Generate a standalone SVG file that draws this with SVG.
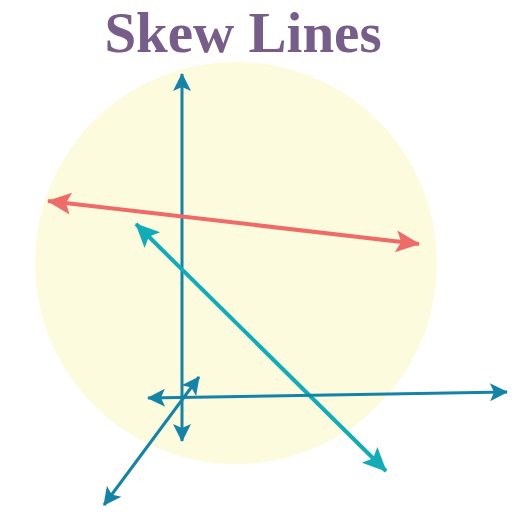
<svg xmlns="http://www.w3.org/2000/svg" width="530" height="528" viewBox="0 0 530 528">
<style>
.blue{stroke:#1583a8;stroke-width:3;fill:none}
.red{stroke:#ef6b67;stroke-width:4;fill:none}
.cyan{stroke:#10acb8;stroke-width:4;fill:none}
.title{font-family:"Liberation Serif",serif;font-weight:bold;font-size:57px;fill:#775d8a}
</style>
<defs>
<marker id="ab" markerUnits="userSpaceOnUse" viewBox="-24 -14 28 28" refX="0" refY="0" markerWidth="28" markerHeight="28" orient="auto-start-reverse">
<path d="M1,0 L-17,-9 L-13,0 L-17,9 Z" fill="#1583a8"/>
</marker>
<marker id="ar" markerUnits="userSpaceOnUse" viewBox="-32 -18 36 36" refX="0" refY="0" markerWidth="36" markerHeight="36" orient="auto-start-reverse">
<path d="M1,0 L-23,-11 L-18,0 L-23,11 Z" fill="#ef6b67"/>
</marker>
<marker id="ac" markerUnits="userSpaceOnUse" viewBox="-32 -18 36 36" refX="0" refY="0" markerWidth="36" markerHeight="36" orient="auto-start-reverse">
<path d="M1,0 L-23,-11 L-18,0 L-23,11 Z" fill="#10acb8"/>
</marker>
</defs>
<rect width="530" height="528" fill="#ffffff"/>
<circle cx="236" cy="263" r="201" fill="#fcfbdd"/>
<text class="title" x="243" y="52" text-anchor="middle">Skew Lines</text>
<g id="connectors">
<line class="blue" x1="182" y1="74" x2="182" y2="441" marker-start="url(#ab)" marker-end="url(#ab)"/>
<line class="red" x1="48" y1="201" x2="419" y2="244" marker-start="url(#ar)" marker-end="url(#ar)"/>
<line class="cyan" x1="136" y1="224" x2="386" y2="471" marker-start="url(#ac)" marker-end="url(#ac)"/>
<line class="blue" x1="148" y1="398" x2="507" y2="392" marker-start="url(#ab)" marker-end="url(#ab)"/>
<line class="blue" x1="104" y1="505" x2="199" y2="377" marker-start="url(#ab)" marker-end="url(#ab)"/>
</g>
</svg>
